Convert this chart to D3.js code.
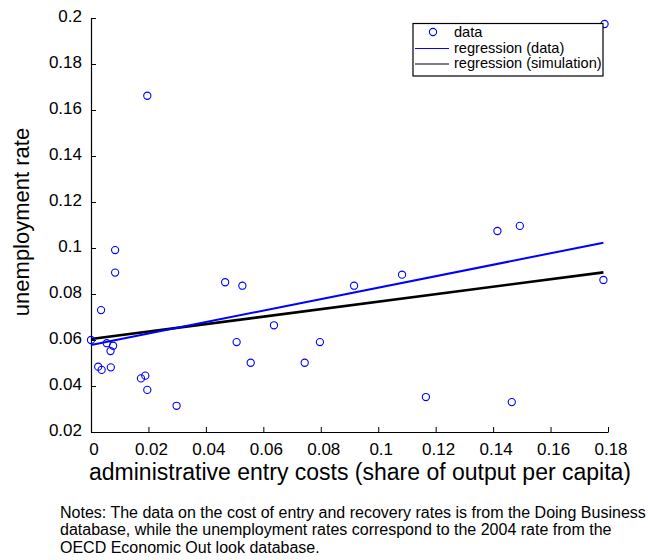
<!DOCTYPE html>
<html><head><meta charset="utf-8">
<script src="https://cdn.jsdelivr.net/npm/d3@7"></script>
<style>body{margin:0;background:#fff}svg{display:block;font-family:"Liberation Sans",Arial,sans-serif}</style>
</head><body><svg id="c" width="648" height="560"></svg>
<script>
const costX = [0.0, 0.0035, 0.0055, 0.0077, 0.0068, 0.0025, 0.0037, 0.0069, 0.0174, 0.0189,
  0.0196, 0.0298, 0.0507, 0.0556, 0.0196, 0.0084, 0.0084, 0.0467, 0.0527, 0.0637,
  0.0744, 0.0797, 0.0916, 0.1083, 0.1166, 0.1415, 0.1493, 0.1784, 0.1465, 0.1788];
const unempY = [0.060, 0.073, 0.0586, 0.0575, 0.0552, 0.0484, 0.0470, 0.0481, 0.0433, 0.0445,
  0.0383, 0.0314, 0.0591, 0.0501, 0.1662, 0.0991, 0.0893, 0.0851, 0.0836, 0.0664,
  0.0501, 0.0591, 0.0836, 0.0884, 0.0352, 0.1074, 0.1096, 0.0861, 0.0330, 0.1974];
const regX = [0, 0.1784];
const regData = [0.0578, 0.1023];
const regSim = [0.0604, 0.0894];
const xTicks = [0, 0.02, 0.04, 0.06, 0.08, 0.1, 0.12, 0.14, 0.16, 0.18];
const yTicks = [0.02, 0.04, 0.06, 0.08, 0.1, 0.12, 0.14, 0.16, 0.18, 0.2];
const legendLabels = ["data", "regression (data)", "regression (simulation)"];
const notes = ["Notes: The data on the cost of entry and recovery rates is from the Doing Business",
  "database, while the unemployment rates correspond to the 2004 rate from the",
  "OECD Economic Out look database."];

const svg = d3.select("#c");
const L = 91, R = 608, T = 18, B = 432;
const x = d3.scaleLinear().domain([0, 0.18]).range([L, R]);
const y = d3.scaleLinear().domain([0.02, 0.2]).range([B, T]);
const fmt = d => d === 0 ? "0" : String(+d.toFixed(2));

const xa = svg.append("g").attr("transform", `translate(0,${B})`)
  .call(d3.axisBottom(x).tickValues(xTicks).tickFormat(fmt).tickSizeInner(-5).tickSizeOuter(0).tickPadding(11));
const ya = svg.append("g").attr("transform", `translate(${L},0)`)
  .call(d3.axisLeft(y).tickValues(yTicks).tickFormat(fmt).tickSizeInner(-5).tickSizeOuter(0).tickPadding(9));
[xa, ya].forEach(a => {
  a.selectAll("text").attr("font-size", 17).attr("fill", "#000").attr("font-family", "Liberation Sans, Arial, sans-serif");
  a.selectAll("line").attr("stroke", "#000");
  a.select(".domain").attr("stroke", "#000").attr("stroke-width", 1.2);
});
xa.selectAll("text").attr("dx", 2.5);
ya.selectAll("text").attr("dy", "0.2em");

const line = d3.line().x(d => x(d[0])).y(d => y(d[1]));
svg.append("path").datum(regX.map((v, i) => [v, regSim[i]])).attr("d", line)
  .attr("stroke", "#000").attr("stroke-width", 2.6).attr("fill", "none");
svg.append("path").datum(regX.map((v, i) => [v, regData[i]])).attr("d", line)
  .attr("stroke", "#0000ff").attr("stroke-width", 2).attr("fill", "none");

svg.append("g").selectAll("circle").data(costX.map((v, i) => [v, unempY[i]])).join("circle")
  .attr("cx", d => x(d[0])).attr("cy", d => y(d[1])).attr("r", 3.6)
  .attr("fill", "none").attr("stroke", "#0000ff").attr("stroke-width", 1.1);

// legend
const lg = svg.append("g");
lg.append("rect").attr("x", 413).attr("y", 23.5).attr("width", 190).attr("height", 52.5)
  .attr("fill", "#fff").attr("stroke", "#000").attr("stroke-width", 1.2);
lg.append("circle").attr("cx", 433).attr("cy", 32).attr("r", 3.6).attr("fill", "none")
  .attr("stroke", "#0000ff").attr("stroke-width", 1.1);
lg.append("line").attr("x1", 415).attr("x2", 449).attr("y1", 48.5).attr("y2", 48.5).attr("stroke", "#0000ff");
lg.append("line").attr("x1", 415).attr("x2", 449).attr("y1", 64).attr("y2", 64).attr("stroke", "#000");
lg.selectAll("text").data(legendLabels).join("text")
  .attr("x", 454).attr("y", (d, i) => 37 + i * 15.6).attr("font-size", 14.6).text(d => d);

svg.append("text").attr("x", 360).attr("y", 480).attr("text-anchor", "middle")
  .attr("font-size", 23).text("administrative entry costs (share of output per capita)");
svg.append("text").attr("transform", "translate(28.5,222) rotate(-90)").attr("text-anchor", "middle")
  .attr("font-size", 22).text("unemployment rate");

svg.append("g").selectAll("text").data(notes).join("text")
  .attr("x", 60).attr("y", (d, i) => 517.5 + i * 17.5).attr("font-size", 16).text(d => d);
</script></body></html>
